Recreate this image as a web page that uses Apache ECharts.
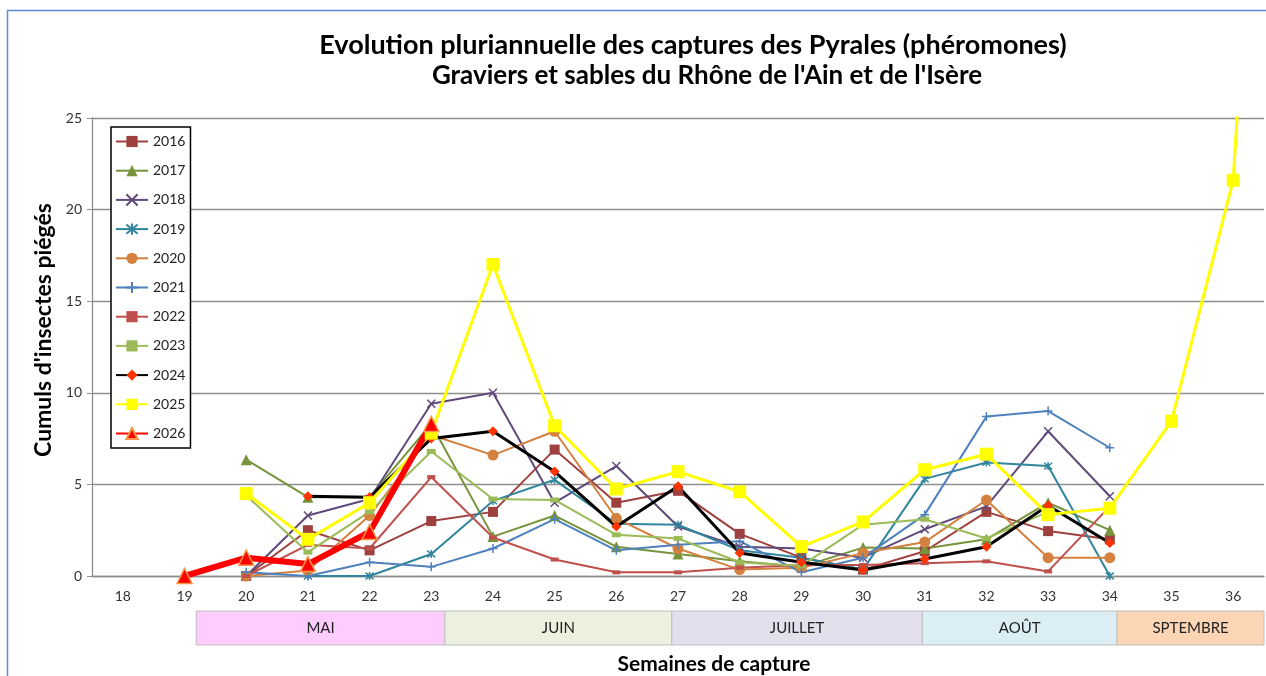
<!DOCTYPE html>
<html>
<head>
<meta charset="utf-8">
<script src="https://cdn.jsdelivr.net/npm/echarts@6/dist/echarts.min.js"></script>
<style>
  html, body { margin: 0; padding: 0; background: #fff; }
  #chart { width: 1266px; height: 676px; }
</style>
</head>
<body>
<div id="chart"></div>
<script>
// semaines (37 = point hors cadre pour la montée finale de 2025)
const weeks = ['18','19','20','21','22','23','24','25','26','27','28','29','30','31','32','33','34','35','36','37'];
const years = ['2016','2017','2018','2019','2020','2021','2022','2023','2024','2025','2026'];

const s2016 = [null, null, 0, 2.5, 1.4, 3.0, 3.5, 6.9, 4.0, 4.65, 2.3, 1.0, 0.35, 1.35, 3.5, 2.45, 2.0, null, null, null];
const s2017 = [null, null, 6.35, 4.3, 4.3, 8.3, 2.15, 3.3, 1.6, 1.2, 0.8, 0.5, 1.55, 1.5, 2.0, 4.0, 2.5, null, null, null];
const s2018 = [null, null, 0, 3.3, 4.2, 9.4, 10.0, 4.0, 6.0, 2.7, 1.6, 1.5, 1.0, 2.55, 3.8, 7.9, 4.35, null, null, null];
const s2019 = [null, null, null, 0, 0, 1.2, 4.1, 5.25, 2.85, 2.8, 1.4, 1.0, 0.35, 5.3, 6.2, 6.0, 0, null, null, null];
const s2020 = [null, null, 0, 0.3, 3.3, 7.7, 6.6, 7.9, 3.15, 1.5, 0.35, 0.45, 1.25, 1.85, 4.15, 1.0, 1.0, null, null, null];
const s2021 = [null, null, 0.2, 0, 0.75, 0.5, 1.5, 3.1, 1.4, 1.7, 1.9, 0.2, 1.0, 3.35, 8.7, 9.0, 7.0, null, null, null];
const s2022 = [null, null, 0, 1.7, 1.5, 5.4, 2.1, 0.9, 0.2, 0.2, 0.45, 0.6, 0.6, 0.7, 0.8, 0.25, 3.8, null, null, null];
const s2023 = [null, null, 4.4, 1.3, 3.5, 6.8, 4.2, 4.15, 2.25, 2.05, 0.75, 0.55, 2.8, 3.1, 2.05, 3.5, null, null, null, null];
const s2024 = [null, null, null, 4.35, 4.3, 7.5, 7.9, 5.7, 2.7, 4.9, 1.25, 0.75, 0.33, 0.93, 1.6, 3.85, 1.8, null, null, null];
const s2025 = [null, null, 4.5, 2.0, 4.0, 7.8, 17.0, 8.2, 4.75, 5.7, 4.6, 1.6, 2.95, 5.8, 6.65, 3.35, 3.7, 8.45, 21.6, 75];
const s2026 = [null, 0, 1.0, 0.65, 2.4, 8.3, null, null, null, null, null, null, null, null, null, null, null, null, null, null];

// bandeau des mois (bornes en semaines)
const months = ['MAI', 'JUIN', 'JUILLET', 'AOÛT', 'SPTEMBRE'];
const monthStart = [19.19, 23.22, 26.9, 30.96, 34.12];
const monthEnd = [23.22, 26.9, 30.96, 34.12, 36.5];
const monthColors = ['#FFCCFF', '#EBF1DE', '#E4DFEC', '#DAEEF3', '#FCD5B4'];

const FONT = 'Lato';

const chart = echarts.init(document.getElementById('chart'));

// symboles dessinés au trait
const crossX = 'path://M0,0L10,10M10,0L0,10';
const plus = 'path://M5,0L5,10M0,5L10,5';
const star = 'path://M0,0L10,10M10,0L0,10M5,-1L5,11';
const dash = 'path://M0,0L12,0L12,5L0,5Z';

function serie (name, data, opts) {
  return Object.assign({
    name: name,
    type: 'line',
    data: data,
    xAxisIndex: 0,
    yAxisIndex: 0,
    showAllSymbol: true,
    clip: true,
    animation: false,
    emphasis: { disabled: true }
  }, opts);
}

function lineOpts (color, width, symbol, size, fill, border) {
  return {
    symbol: symbol,
    symbolSize: size,
    lineStyle: { color: color, width: width },
    itemStyle: { color: fill || color, borderColor: border || (fill || color), borderWidth: border ? 1.5 : 0 }
  };
}

const series = [
  serie('2016', s2016, lineOpts('#9E413E', 2, 'rect', 10)),
  serie('2017', s2017, lineOpts('#77933C', 2, 'triangle', 11)),
  serie('2018', s2018, lineOpts('#604A7B', 2, crossX, 8, '#604A7B', '#604A7B')),
  serie('2019', s2019, lineOpts('#31859C', 2, star, 8, '#31859C', '#31859C')),
  serie('2020', s2020, lineOpts('#D4803E', 2, 'circle', 11)),
  serie('2021', s2021, lineOpts('#4F81BD', 2, plus, 9, '#4F81BD', '#4F81BD')),
  serie('2022', s2022, lineOpts('#C0504D', 2, dash, [8, 4])),
  serie('2023', s2023, lineOpts('#9BBB59', 2, dash, [9, 5])),
  serie('2024', s2024, lineOpts('#000000', 3, 'diamond', 10, '#FF3300')),
  serie('2025', s2025, lineOpts('#FFFF00', 3, 'rect', 13)),
  serie('2026', s2026, lineOpts('#FF0000', 6, 'triangle', 15, '#FF0000', '#F79646')),
  {
    name: 'mois',
    type: 'custom',
    xAxisIndex: 1,
    yAxisIndex: 1,
    animation: false,
    silent: true,
    data: months.map((m, i) => [monthStart[i], monthEnd[i], i]),
    renderItem: function (params, api) {
      const p0 = api.coord([api.value(0), 1]);
      const p1 = api.coord([api.value(1), 0]);
      const i = api.value(2);
      return {
        type: 'rect',
        shape: { x: p0[0], y: p0[1], width: p1[0] - p0[0], height: p1[1] - p0[1] },
        style: { fill: monthColors[i], stroke: '#BFBFBF', lineWidth: 1 },
        textContent: { style: { text: months[i], fill: '#222', font: '15px ' + FONT } },
        textConfig: { position: 'inside' }
      };
    }
  }
];

chart.setOption({
  backgroundColor: '#fff',
  animation: false,
  textStyle: { fontFamily: FONT },
  title: [
    { text: 'Evolution pluriannuelle des captures des Pyrales (phéromones)', left: 688, top: 27, textAlign: 'center',
      textStyle: { fontFamily: FONT, fontSize: 27, fontWeight: 'bold', color: '#000' } },
    { text: "Graviers et sables du Rhône de l'Ain et de l'Isère", left: 702, top: 58, textAlign: 'center',
      textStyle: { fontFamily: FONT, fontSize: 26, fontWeight: 'bold', color: '#000' } }
  ],
  legend: {
    data: years,
    orient: 'vertical',
    left: 111,
    top: 127,
    padding: [7, 5, 7, 4],
    itemWidth: 32,
    itemHeight: 14,
    itemGap: 14.2,
    backgroundColor: '#fff',
    borderColor: '#000',
    borderWidth: 1.5,
    borderRadius: 0,
    selectedMode: false,
    textStyle: { fontFamily: FONT, fontSize: 14, color: '#222', lineHeight: 15 }
  },
  grid: [
    { left: 92, right: 2, top: 118, bottom: 100 },
    { left: 92, right: 2, top: 611, height: 34 }
  ],
  xAxis: [
    {
      type: 'category',
      data: weeks,
      max: 18,
      boundaryGap: true,
      axisLine: { lineStyle: { color: '#8E8E8E', width: 1.3 } },
      axisTick: { length: 6, lineStyle: { color: '#8E8E8E' } },
      axisLabel: { fontFamily: FONT, fontSize: 14, color: '#333', margin: 13 }
    },
    { type: 'value', gridIndex: 1, min: 17.5, max: 36.5, show: false }
  ],
  yAxis: [
    {
      type: 'value',
      min: 0,
      max: 25,
      interval: 5,
      name: "Cumuls d'insectes piégés",
      nameLocation: 'middle',
      nameGap: 34,
      nameRotate: 90,
      nameTextStyle: { fontFamily: FONT, fontSize: 23, fontWeight: 'bold', color: '#000', padding: [0, 0, 0, 34] },
      axisLine: { show: true, lineStyle: { color: '#8E8E8E', width: 1.3 } },
      axisTick: { show: true, length: 5, lineStyle: { color: '#8E8E8E' } },
      axisLabel: { fontFamily: FONT, fontSize: 14, color: '#333', margin: 10 },
      splitLine: { lineStyle: { color: '#8E8E8E', width: 1.3 } }
    },
    { type: 'value', gridIndex: 1, min: 0, max: 1, show: false }
  ],
  graphic: [
    {
      type: 'rect', silent: true, z: -1,
      shape: { x: 7.5, y: 10.5, width: 1275, height: 690 },
      style: { fill: 'none', stroke: '#5B8BD2', lineWidth: 1.5 }
    },
    {
      type: 'text', silent: true, x: 714, y: 664,
      style: { text: 'Semaines de capture', fill: '#000', font: 'bold 21px ' + FONT, textAlign: 'center', textVerticalAlign: 'middle' }
    }
  ],
  series: series
});
</script>
</body>
</html>
